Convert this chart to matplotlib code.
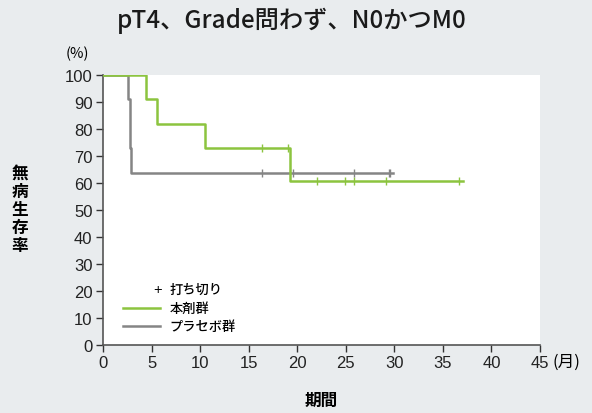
import numpy as np
import matplotlib
matplotlib.use("Agg")
import matplotlib.pyplot as plt

plt.rcParams['font.family'] = ['Noto Sans CJK JP', 'DejaVu Sans']

# Kaplan-Meier steps
drug_t = [0, 4.4, 5.6, 10.5, 19.3, 37.1]
drug_s = [100, 90.9, 81.8, 72.7, 60.6, 60.6]
drug_cens = [16.4, 19.1, 22.0, 24.95, 25.85, 29.1, 36.7]

plac_t = [0, 2.55, 2.78, 2.88, 29.9]
plac_s = [100, 90.9, 72.7, 63.6, 63.6]
plac_cens = [16.4, 19.6, 25.85, 29.4, 29.6]

xticks = list(range(0, 50, 5))
yticks = list(range(0, 110, 10))

green = '#8cc43f'
gray = '#858585'
bg = '#e9ecee'


def surv_at(times, surv, t):
    idx = np.searchsorted(times, t, side='right') - 1
    return np.array(surv)[idx]


fig = plt.figure(figsize=(5.92, 4.14), dpi=100, facecolor=bg)
ax = fig.add_axes([103 / 592, (414 - 345.7) / 414, 437 / 592, 270.2 / 414])
ax.set_facecolor('white')

ax.step(drug_t, drug_s, where='post', color=green, lw=1.8, zorder=3)
ax.step(plac_t, plac_s, where='post', color=gray, lw=1.8, zorder=2)
ax.plot(drug_cens, surv_at(drug_t, drug_s, drug_cens), ls='none', marker='|',
        ms=6, mew=1.0, color=green, zorder=4)
ax.plot(plac_cens, surv_at(plac_t, plac_s, plac_cens), ls='none', marker='|',
        ms=6, mew=1.0, color=gray, zorder=4)

ax.set_xlim(0, 45)
ax.set_ylim(0, 100)
ax.set_xticks(xticks)
ax.set_yticks(yticks)
ax.tick_params(labelsize=12, length=5, width=1, color='#333333')
ax.tick_params(axis='x', pad=2.5)
ax.tick_params(axis='y', pad=2.5)
for lab in ax.get_xticklabels() + ax.get_yticklabels():
    lab.set_family('Liberation Sans')
    lab.set_color('#222222')
for sp in ['top', 'right']:
    ax.spines[sp].set_visible(False)
for sp in ['left', 'bottom']:
    ax.spines[sp].set_color('#555555')
    ax.spines[sp].set_linewidth(1.2)

# manual legend
ax.text(0.124, 0.206, '+', transform=ax.transAxes, ha='center', va='center',
        fontsize=10.5, family='Liberation Sans')
ax.text(0.153, 0.206, '打ち切り', transform=ax.transAxes, ha='left', va='center',
        fontsize=9.5, fontweight='medium')
ax.plot([0.046, 0.130], [0.136, 0.136], transform=ax.transAxes, color=green, lw=1.8)
ax.text(0.153, 0.136, '本剤群', transform=ax.transAxes, ha='left', va='center',
        fontsize=9.5, fontweight='medium')
ax.plot([0.046, 0.130], [0.069, 0.069], transform=ax.transAxes, color=gray, lw=1.8)
ax.text(0.153, 0.069, 'プラセボ群', transform=ax.transAxes, ha='left', va='center',
        fontsize=9.5, fontweight='medium')

fig.text(292 / 592, 1 - 21 / 414, 'pT4、Grade問わず、N0かつM0', ha='center', va='center',
         fontsize=17.5, fontweight='medium', color='#1a1a1a')
fig.text(77 / 592, 1 - 54 / 414, '(%)', ha='center', va='center', fontsize=10.5)
fig.text(552 / 592, 1 - 362 / 414, '(月)', ha='left', va='center', fontsize=12)
fig.text(20 / 592, 1 - 210 / 414, '無\n病\n生\n存\n率', ha='center', va='center',
         fontsize=12, fontweight='bold', linespacing=1.0)
fig.text(321 / 592, 1 - 401 / 414, '期間', ha='center', va='center', fontsize=12,
         fontweight='bold')

fig.savefig('out.png', dpi=100, facecolor=bg)
